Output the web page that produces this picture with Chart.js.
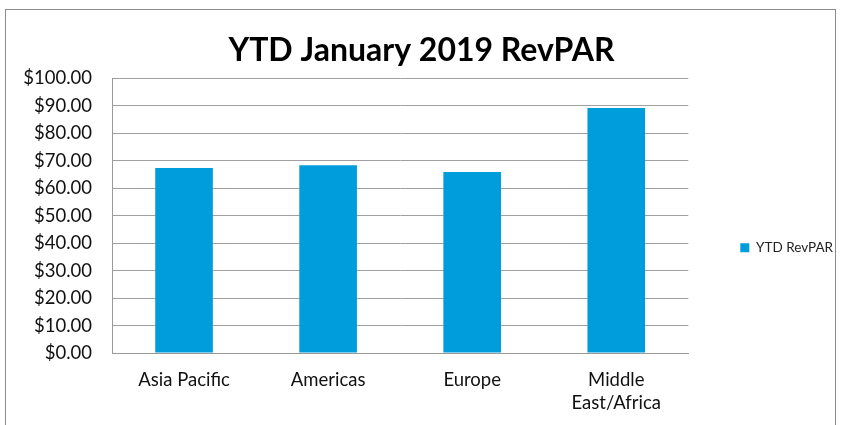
<!DOCTYPE html>
<html>
<head>
<meta charset="utf-8">
<script src="https://cdn.jsdelivr.net/npm/chart.js@4"></script>
<style>
  html, body { margin: 0; padding: 0; background: #fff; }
  #wrap { position: relative; width: 844px; height: 425px; overflow: hidden; }
  #frame { position: absolute; left: 5px; top: 9px; width: 831px; height: 430px; border: 1px solid #8c8c8c; box-sizing: border-box; }
  #mycanvas { position: absolute; left: 0; top: 0; }
</style>
</head>
<body>
<div id="wrap">
  <div id="frame"></div>
  <canvas id="mycanvas" width="844" height="425"></canvas>
</div>
<script>
var regions = ['Asia Pacific', 'Americas', 'Europe', ['Middle', 'East/Africa']];
var revpar = [67.4, 68.4, 65.9, 89.2];
var seriesName = 'YTD RevPAR';
var chartTitle = 'YTD January 2019 RevPAR';

var chartdata = {
    labels: regions,
    datasets: [{
        label: seriesName,
        backgroundColor: '#009ddc',
        borderWidth: 0,
        barPercentage: 0.4,
        categoryPercentage: 1.0,
        data: revpar
    }]
};

var ctx = document.getElementById('mycanvas');

var barGraph = new Chart(ctx, {
    type: 'bar',
    data: chartdata,
    options: {
        responsive: false,
        animation: false,
        layout: { padding: { left: 0, right: 1, top: 10, bottom: 10 } },
        plugins: {
            title: {
                display: true,
                text: chartTitle,
                color: '#000',
                font: { family: 'Lato', size: 32, weight: 'bold' },
                padding: { top: 21, bottom: 9 }
            },
            legend: {
                position: 'right',
                title: { display: true, text: ' ', padding: { top: 28, bottom: 28 }, font: { size: 12 } },
                labels: {
                    color: '#222',
                    font: { family: 'Lato', size: 13.5 },
                    boxWidth: 9,
                    boxHeight: 9,
                    padding: 52
                }
            },
            tooltip: { enabled: false }
        },
        scales: {
            x: {
                grid: { display: false, drawTicks: false },
                border: { color: '#999', width: 1 },
                ticks: {
                    color: '#111',
                    font: { family: 'Lato', size: 18.5, lineHeight: 1.25 },
                    padding: 15,
                    maxRotation: 0
                },
                afterFit: function (scale) { scale.height = 62; }
            },
            y: {
                min: 0,
                max: 100,
                grid: { color: '#a0a0a0', lineWidth: 1, drawTicks: false },
                border: { color: '#999', width: 1 },
                ticks: {
                    stepSize: 10,
                    color: '#111',
                    font: { family: 'Lato', size: 18.5 },
                    padding: 20,
                    callback: function (v) { return '$' + Number(v).toFixed(2); }
                },
                afterFit: function (scale) { scale.width = 112; }
            }
        }
    }
});
</script>
</body>
</html>
